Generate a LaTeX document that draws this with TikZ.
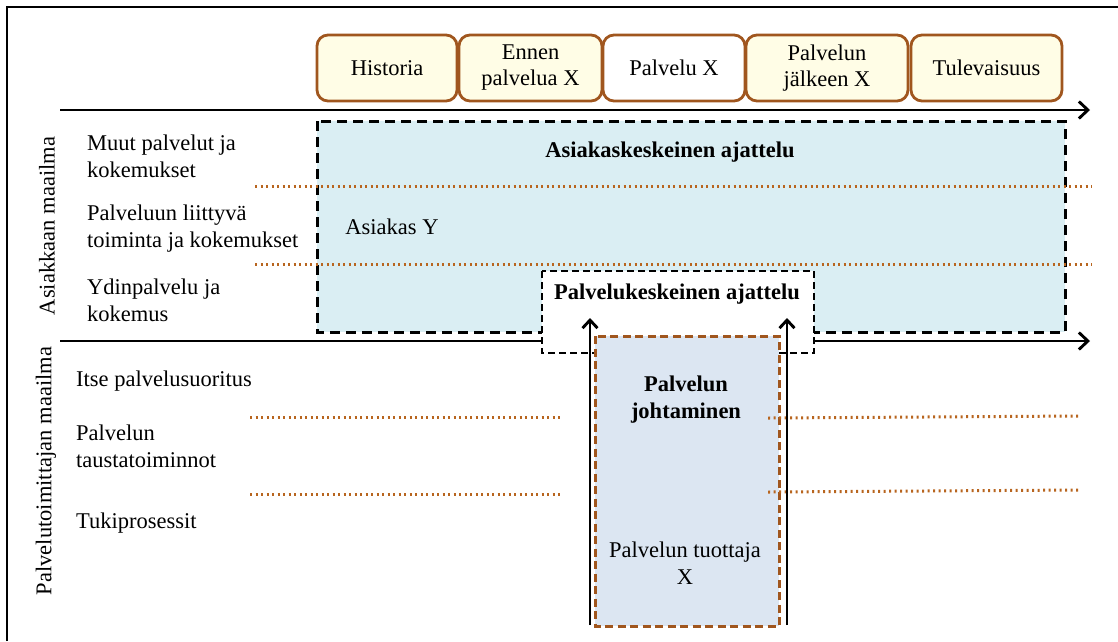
\documentclass[tikz,border=0pt]{standalone}
\usepackage{fontspec}
\setmainfont{Liberation Serif}
\usetikzlibrary{arrows.meta}
\definecolor{rust}{HTML}{A0561E}
\definecolor{cream}{HTML}{FFFDE6}
\definecolor{skyfill}{HTML}{DAEEF3}
\definecolor{steelfill}{HTML}{DCE6F2}
\definecolor{dotbrown}{HTML}{B8651F}

\begin{document}
\begin{tikzpicture}[x=1pt,y=-1pt,
  font=\fontsize{22.5}{27}\selectfont,
  phase/.style={draw=rust, line width=2.8pt, rounded corners=11pt, fill=cream,
    minimum height=66pt, inner sep=0pt, align=center},
  axisline/.style={line width=2.9pt,
    -{Straight Barb[length=9pt,width=17pt,line width=2.9pt]}},
  uparrow/.style={line width=2.9pt,
    -{Straight Barb[length=8pt,width=15pt,line width=2.9pt]}},
  layer/.style={draw=dotbrown, line width=3pt, dash pattern=on 2pt off 3.5pt},
  lbl/.style={anchor=west, align=left, inner sep=0pt},
  txt/.style={align=center, inner sep=0pt},
  bold/.style={txt, font=\fontsize{22.5}{27}\selectfont\bfseries}
]
\useasboundingbox (0,0) rectangle (1118,641);

% outer frame
\draw[line width=1.8pt] (7,641) -- (7,7) -- (1118,7);

% time phases
\node[phase, minimum width=140pt] (hist) at (387,68) {Historia};
\node[phase, minimum width=143pt] (before) at (530.5,68) {Ennen\\[-1pt]palvelua X};
\node[phase, minimum width=142pt, fill=white] (serv) at (674,68) {Palvelu X};
\node[phase, minimum width=162pt] (after) at (827,68) {Palvelun\\[-1pt]jälkeen X};
\node[phase, minimum width=151pt] (future) at (986.5,68) {Tulevaisuus};

% customer-centred area
\path[fill=skyfill, draw=black, line width=3pt, dash pattern=on 10pt off 6pt]
  (317,121) rectangle (1065,332);

% customer layers
\draw[layer] (255,186) -- (1092,186);
\draw[layer] (255,264) -- (1092,264);

% world axes
\coordinate (a1s) at (60,110);
\coordinate (a1e) at (1090,110);
\coordinate (a2s) at (60,341);
\coordinate (a2e) at (1090,341);
\draw[axisline] (a1s) -- (a1e);
\draw[axisline] (a2s) -- (a2e);

% service-centred box
\path[fill=white, draw=black, line width=2.7pt, dash pattern=on 7pt off 4pt]
  (542,271) rectangle (814,353);

% management box
\path[fill=steelfill, draw=rust, line width=3pt, dash pattern=on 8pt off 4.5pt]
  (595,336) rectangle (779,626);

% provider layers
\draw[layer] (250,417) -- (560,417);
\draw[layer] (768,418) -- (1078,416);
\draw[layer] (250,494) -- (560,494);
\draw[layer] (768,492) -- (1078,490);

% vertical arrows
\coordinate (l0) at (590,625);
\coordinate (l1) at (590,318);
\coordinate (r0) at (787,625);
\coordinate (r1) at (787,318);
\draw[uparrow] (l0) -- (l1);
\draw[uparrow] (r0) -- (r1);

% texts
\node[bold] (custc) at (670,152) {Asiakaskeskeinen ajattelu};
\node[txt] (custy) at (392,227) {Asiakas Y};
\node[bold] (servc) at (677,294) {Palvelukeskeinen ajattelu};
\node[bold] (mgmt) at (686,400) {Palvelun\\johtaminen};
\node[txt] (prod) at (685,563) {Palvelun tuottaja\\X};

\node[lbl] (c1) at (87,156) {Muut palvelut ja\\kokemukset};
\node[lbl] (c2) at (87,229) {Palveluun liittyvä\\toiminta ja kokemukset};
\node[lbl] (c3) at (87,300) {Ydinpalvelu ja\\kokemus};

\node[lbl] (p1) at (76,381) {Itse palvelusuoritus};
\node[lbl] (p2) at (76,446) {Palvelun\\taustatoiminnot};
\node[lbl] (p3) at (76,523) {Tukiprosessit};

\node[txt, rotate=90] (cw) at (47,226) {Asiakkaan maailma};
\node[txt, rotate=90] (pw) at (46,471) {Palvelutoimittajan maailma};
\end{tikzpicture}
\end{document}
